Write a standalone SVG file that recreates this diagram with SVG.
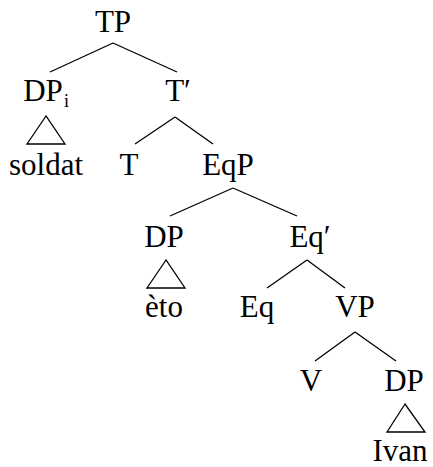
<svg xmlns="http://www.w3.org/2000/svg" width="433" height="467" viewBox="0 0 433 467">
<style>
text{font-family:"Liberation Serif","DejaVu Serif",serif;font-size:31px;fill:#000;text-anchor:middle}
.sub{font-size:18px;text-anchor:start}
line,polygon{stroke:#000;stroke-width:1.3;fill:none}
</style>
<rect width="433" height="467" fill="#fff"/>
<g id="connectors">
<line x1="113" y1="43" x2="50" y2="72"/>
<line x1="113" y1="43" x2="177" y2="72"/>
<polygon points="46,116 27,144 65,144"/>
<line x1="175" y1="117" x2="135" y2="144"/>
<line x1="175" y1="117" x2="213" y2="144"/>
<line x1="233" y1="188" x2="170" y2="216"/>
<line x1="233" y1="188" x2="297" y2="216"/>
<polygon points="166,260 147,288 185,288"/>
<line x1="307" y1="260" x2="267" y2="288"/>
<line x1="307" y1="260" x2="345" y2="288"/>
<line x1="355" y1="332" x2="315" y2="361"/>
<line x1="355" y1="332" x2="396" y2="361"/>
<polygon points="405,404 387,432 425,432"/>
</g>
<g id="TP"><text x="113" y="32">TP</text></g>
<g id="DPi"><text x="43" y="101">DP</text><text class="sub" x="64" y="107">i</text></g>
<g id="soldat"><text x="46" y="175">soldat</text></g>
<g id="Tbar"><text x="178" y="101">T′</text></g>
<g id="T"><text x="129" y="175">T</text></g>
<g id="EqP"><text x="228" y="175">EqP</text></g>
<g id="DP2"><text x="164" y="247">DP</text></g>
<g id="eto"><text x="164" y="317">èto</text></g>
<g id="Eqbar"><text x="310" y="247">Eq′</text></g>
<g id="Eq"><text x="257" y="317">Eq</text></g>
<g id="VP"><text x="355" y="317">VP</text></g>
<g id="V"><text x="311" y="391">V</text></g>
<g id="DP3"><text x="404" y="391">DP</text></g>
<g id="Ivan"><text x="400" y="461">Ivan</text></g>
</svg>
